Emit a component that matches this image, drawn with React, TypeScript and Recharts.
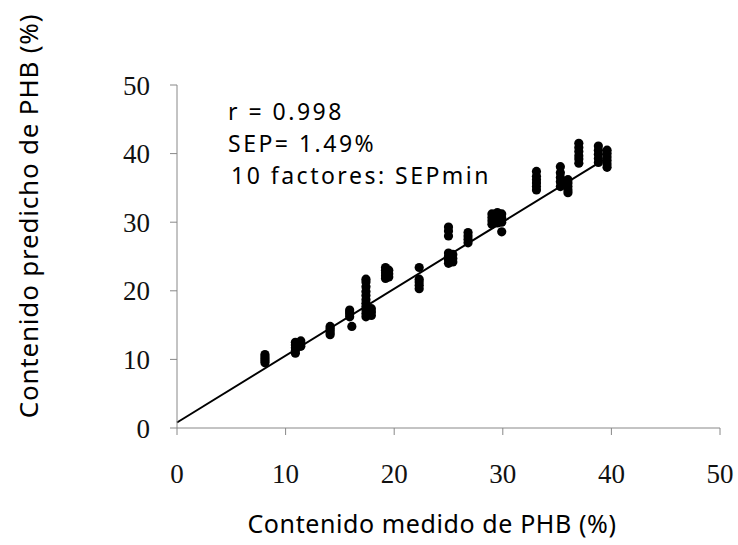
import React from 'react';
import { ScatterChart, Scatter, XAxis, YAxis, ReferenceLine } from 'recharts';

// Axis ticks
const xTicks = [0, 10, 20, 30, 40, 50];
const yTicks = [0, 10, 20, 30, 40, 50];

// Measured PHB content of each group of replicate samples (%)
const measuredGroups = [8.1, 10.9, 11.4, 14.1, 15.9, 16.1, 17.4, 17.9, 19.2, 19.5, 22.3, 25.0, 25.4, 26.8, 29.0, 29.5, 29.9, 33.1, 35.3, 36.0, 37.0, 38.8, 39.6];

// Predicted PHB content for each group (%)
const predictedGroups = [
  [9.5, 9.8, 10.1, 10.4, 10.7],
  [10.9, 11.3, 11.7, 12.1, 12.5],
  [11.9, 12.3, 12.7],
  [13.6, 13.9, 14.2, 14.5, 14.8],
  [16.2, 16.6, 16.9, 17.2],
  [14.8],
  [16.2, 16.7, 17.2, 17.7, 18.2, 18.7, 19.3, 19.9, 20.6, 21.3, 21.7],
  [16.4, 16.9, 17.4],
  [21.8, 22.2, 22.6, 23.0, 23.4],
  [22.0, 22.5, 23.0],
  [20.3, 20.8, 21.3, 21.7, 23.4],
  [24.0, 24.5, 25.0, 25.5, 28.0, 28.7, 29.3],
  [24.2, 24.7, 25.3],
  [27.0, 27.5, 28.0, 28.5],
  [29.7, 30.2, 30.7, 31.2],
  [29.9, 30.4, 30.9, 31.4],
  [28.6, 30.0, 30.6, 31.2],
  [34.7, 35.2, 35.7, 36.2, 36.7, 37.4],
  [35.2, 35.9, 36.5, 37.2, 38.1],
  [34.3, 34.7, 35.2, 35.7, 36.2],
  [38.6, 39.2, 39.7, 40.3, 40.9, 41.5],
  [38.7, 39.3, 39.9, 40.5, 41.1],
  [38.0, 38.5, 39.0, 39.5, 40.0, 40.5],
];

// Regression line end points
const fitX = [0, 39.7];
const fitY = [0.8, 39.5];

const statsLines = ['r = 0.998', 'SEP= 1.49%', '10 factores: SEPmin'];
const xTitle = 'Contenido medido de PHB (%)';
const yTitle = 'Contenido predicho de PHB (%)';

const points = measuredGroups.flatMap((x, i) => predictedGroups[i].map((y) => ({ x, y })));

const titleFont = '"Noto Sans", "DejaVu Sans", sans-serif';
const tickFont = '"Liberation Serif", "DejaVu Serif", serif';

const Dot = (props: any) => {
  const { cx, cy } = props;
  if (cx == null || cy == null) return null;
  return <circle cx={cx} cy={cy} r={4.6} fill="#000" />;
};

export default function App() {
  return (
    <div style={{ position: 'absolute', left: 0, top: 0, width: 738, height: 545, background: '#fff' }}>
      <ScatterChart
        width={738}
        height={545}
        margin={{ top: 85, right: 18, bottom: 0, left: 0 }}
        style={{ position: 'absolute', left: 0, top: 0 }}
      >
        <XAxis
          type="number"
          dataKey="x"
          domain={[0, 50]}
          ticks={xTicks}
          interval={0}
          height={117}
          axisLine={{ stroke: '#888', strokeWidth: 1 }}
          tickLine={{ stroke: '#888', strokeWidth: 1 }}
          tickSize={7}
          tickMargin={29}
          tick={{ fill: '#111', fontSize: 27, fontFamily: tickFont }}
        />
        <YAxis
          type="number"
          dataKey="y"
          domain={[0, 50]}
          ticks={yTicks}
          interval={0}
          width={177}
          axisLine={{ stroke: '#888', strokeWidth: 1 }}
          tickLine={{ stroke: '#888', strokeWidth: 1 }}
          tickSize={7}
          tickMargin={20}
          tick={{ fill: '#111', fontSize: 27, fontFamily: tickFont }}
        />
        <ReferenceLine
          segment={[
            { x: fitX[0], y: fitY[0] },
            { x: fitX[1], y: fitY[1] },
          ]}
          stroke="#000"
          strokeWidth={2}
          ifOverflow="visible"
        />
        <Scatter data={points} shape={Dot} isAnimationActive={false} />
      </ScatterChart>
      <svg
        width={738}
        height={545}
        style={{ position: 'absolute', left: 0, top: 0, pointerEvents: 'none' }}
      >
        <text x={228} y={120} fontSize={23} letterSpacing={2.5} fontFamily={titleFont} fill="#000">
          {statsLines[0]}
        </text>
        <text x={228} y={152} fontSize={23} letterSpacing={2.5} fontFamily={titleFont} fill="#000">
          {statsLines[1]}
        </text>
        <text x={231} y={184} fontSize={23} letterSpacing={2.5} fontFamily={titleFont} fill="#000">
          {statsLines[2]}
        </text>
        <text x={432} y={533} fontSize={25} letterSpacing={0.6} fontFamily={titleFont} fill="#000" textAnchor="middle">
          {xTitle}
        </text>
        <text
          x={0}
          y={0}
          fontSize={26}
          letterSpacing={0.8}
          fontFamily={titleFont}
          fill="#000"
          textAnchor="middle"
          transform="translate(38, 216) rotate(-90)"
        >
          {yTitle}
        </text>
      </svg>
    </div>
  );
}
